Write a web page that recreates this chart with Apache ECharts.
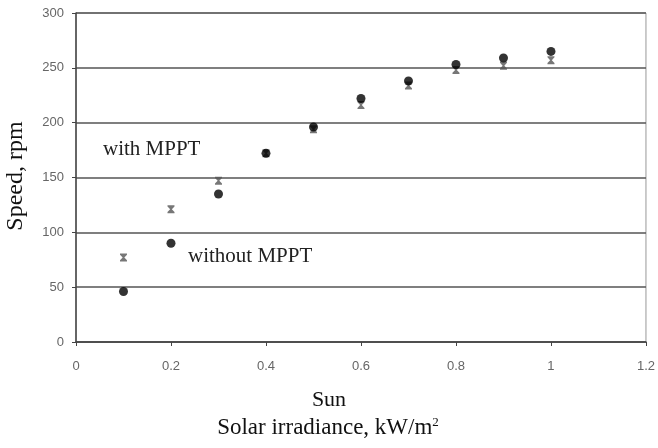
<!DOCTYPE html>
<html><head><meta charset="utf-8">
<script src="https://cdn.jsdelivr.net/npm/echarts@6/dist/echarts.min.js"></script>
<style>html,body{margin:0;padding:0;background:#fff}#c{width:658px;height:448px}</style>
</head><body><div id="c"></div>
<script>
const irradiance = [0.1, 0.2, 0.3, 0.4, 0.5, 0.6, 0.7, 0.8, 0.9, 1.0];
const withMPPT = [77, 121, 147, 172, 194, 216, 234, 248, 252, 257];
const withoutMPPT = [46, 90, 135, 172, 196, 222, 238, 253, 259, 265];
const yTicks = [0, 50, 100, 150, 200, 250, 300];
const xTicks = [0, 0.2, 0.4, 0.6, 0.8, 1, 1.2];

const chart = echarts.init(document.getElementById('c'));
const xMark = 'path://M0,0 L10,0 L10,1.5 L6.2,5 L10,8.5 L10,10 L0,10 L0,8.5 L3.8,5 L0,1.5 Z';
chart.setOption({
  animation: false,
  grid: {left: 76, right: 9, top: 13, bottom: 106, show: true, borderColor: '#999', borderWidth: 1},
  xAxis: {
    type: 'value', min: 0, max: 1.2, interval: 0.2,
    axisLine: {show: true, onZero: false, lineStyle: {color: '#444', width: 1.5}},
    axisTick: {show: true, length: 4, inside: false, lineStyle: {color: '#444'}},
    splitLine: {show: false},
    axisLabel: {color: '#666', fontFamily: 'Liberation Sans', fontSize: 13, margin: 18,
      formatter: v => { const t = xTicks.find(k => Math.abs(k - v) < 1e-9); return t === undefined ? '' : String(t); }}
  },
  yAxis: {
    type: 'value', min: 0, max: 300, interval: 50,
    axisLine: {show: true, lineStyle: {color: '#444', width: 1.5}},
    axisTick: {show: true, length: 4, lineStyle: {color: '#444'}},
    splitLine: {show: true, lineStyle: {color: '#555', width: 1.5}},
    axisLabel: {color: '#666', fontFamily: 'Liberation Sans', fontSize: 13, margin: 12,
      formatter: v => yTicks.includes(v) ? String(v) : ''}
  },
  series: [
    {name: 'with MPPT', type: 'scatter', symbol: xMark, symbolSize: [7, 8],
     itemStyle: {color: '#555'}, z: 2,
     data: irradiance.map((x, i) => [x, withMPPT[i]])},
    {name: 'without MPPT', type: 'scatter', symbol: 'circle', symbolSize: 9,
     itemStyle: {color: '#000'}, z: 3,
     data: irradiance.map((x, i) => [x, withoutMPPT[i]])}
  ],
  graphic: [
    {type: 'text', x: 103, y: 149, style: {text: 'with MPPT', font: '21px "Liberation Serif"', fill: '#222', align: 'left', verticalAlign: 'middle'}},
    {type: 'text', x: 188, y: 256, style: {text: 'without MPPT', font: '21px "Liberation Serif"', fill: '#222', align: 'left', verticalAlign: 'middle'}},
    {type: 'text', x: 16, y: 176, rotation: Math.PI / 2,
     style: {text: 'Speed, rpm', font: '24px "Liberation Serif"', fill: '#111', align: 'center', verticalAlign: 'middle'}},
    {type: 'text', x: 329, y: 400, style: {text: 'Sun', font: '22px "Liberation Serif"', fill: '#111', align: 'center', verticalAlign: 'middle'}},
    {type: 'text', x: 328, y: 428, style: {
      text: 'Solar irradiance, kW/m{s|2}', font: '23px "Liberation Serif"', fill: '#111', align: 'center', verticalAlign: 'middle',
      rich: {s: {fontSize: 13, fontFamily: 'Liberation Serif', verticalAlign: 'top', padding: [0, 0, 10, 0]}}}}
  ]
});
</script></body></html>
